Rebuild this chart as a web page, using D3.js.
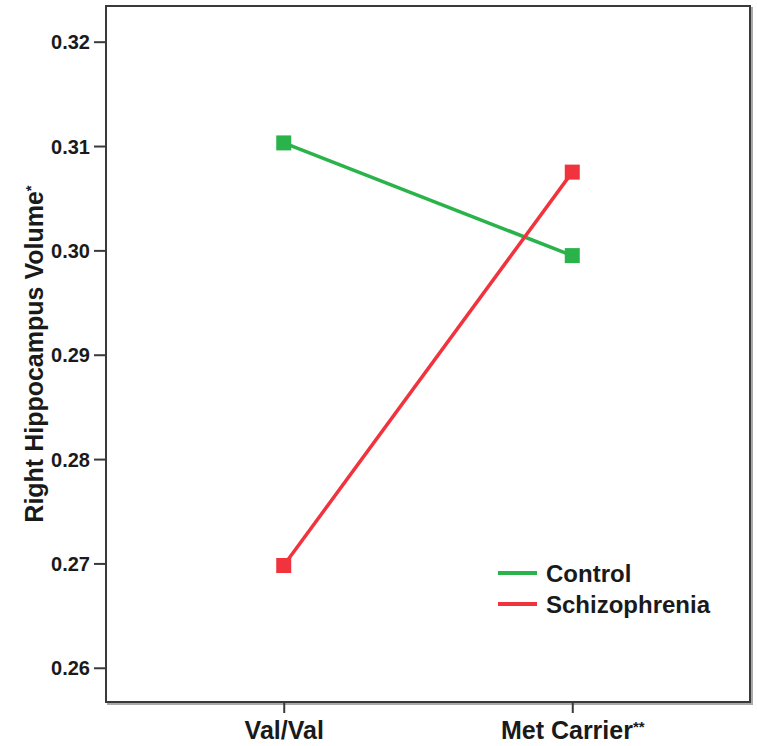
<!DOCTYPE html>
<meta charset="utf-8">
<body style="margin:0;background:#fff">
<script src="https://d3js.org/d3.v7.min.js"></script>
<style>
  text { font-family: "Liberation Sans", Arial, sans-serif; font-weight: bold; fill: #1a1a1a; }
  .tick text { font-size: 20px; }
</style>
<script>
var width = 757, height = 746;

// data
var genotypes = ["Val/Val", "Met Carrier"];
var control = [0.3103, 0.2995];
var schizophrenia = [0.2698, 0.3075];
var yTicks = [0.26, 0.27, 0.28, 0.29, 0.30, 0.31, 0.32];
var groups = ["Control", "Schizophrenia"];
var colors = ["#2bb34b", "#f0333d"];

var plotLeft = 106, plotRight = 750, plotTop = 6, plotBottom = 702;

var svg = d3.select("body").append("svg")
  .attr("width", width)
  .attr("height", height);

var x = d3.scalePoint()
  .domain(genotypes)
  .range([plotLeft, plotRight])
  .padding(0.616);

var y = d3.scaleLinear()
  .domain([0.25672, 0.32342])
  .range([plotBottom, plotTop]);

// frame with a little shadow like the original
svg.append("rect")
  .attr("x", plotLeft + 2).attr("y", plotTop + 2)
  .attr("width", plotRight - plotLeft).attr("height", plotBottom - plotTop)
  .attr("fill", "none").attr("stroke", "#aaa").attr("stroke-width", 2);
svg.append("rect")
  .attr("x", plotLeft).attr("y", plotTop)
  .attr("width", plotRight - plotLeft).attr("height", plotBottom - plotTop)
  .attr("fill", "#fff").attr("stroke", "#3a3a3a").attr("stroke-width", 2);

var yAxis = svg.append("g")
  .attr("transform", "translate(" + plotLeft + ",0)")
  .call(d3.axisLeft(y).tickValues(yTicks).tickFormat(d3.format(".2f")).tickSize(12).tickPadding(4));
yAxis.select(".domain").remove();
yAxis.selectAll(".tick line").attr("stroke", "#3a3a3a").attr("stroke-width", 2);
yAxis.selectAll(".tick text").attr("dy", "0.36em");

var xAxis = svg.append("g")
  .attr("transform", "translate(0," + plotBottom + ")")
  .call(d3.axisBottom(x).tickSize(11).tickPadding(8));
xAxis.select(".domain").remove();
xAxis.selectAll(".tick line").attr("stroke", "#3a3a3a").attr("stroke-width", 2);
xAxis.selectAll(".tick text")
  .style("font-size", "25px")
  .each(function(d) {
    if (d === "Met Carrier") {
      d3.select(this).append("tspan")
        .attr("dy", "-0.45em")
        .style("font-size", "15px")
        .text("**");
    }
  });

// y axis title
var yt = svg.append("text")
  .attr("transform", "translate(43," + ((plotTop + plotBottom) / 2) + ") rotate(-90)")
  .attr("text-anchor", "middle")
  .style("font-size", "25px");
yt.append("tspan").text("Right Hippocampus Volume");
yt.append("tspan").attr("dy", "-0.45em").style("font-size", "15px").text("*");

var series = [control, schizophrenia];
var line = d3.line()
  .x(function(d, i) { return x(genotypes[i]); })
  .y(function(d) { return y(d); });

series.forEach(function(vals, s) {
  svg.append("path")
    .attr("d", line(vals))
    .attr("fill", "none")
    .attr("stroke", colors[s])
    .attr("stroke-width", 3.5);
  svg.selectAll(".pt" + s)
    .data(vals)
    .enter().append("rect")
    .attr("x", function(d, i) { return x(genotypes[i]) - 7.5; })
    .attr("y", function(d) { return y(d) - 7.5; })
    .attr("width", 15).attr("height", 15)
    .attr("fill", colors[s]);
});

// legend
var legend = svg.append("g").attr("transform", "translate(498,573)");
groups.forEach(function(g, i) {
  legend.append("line")
    .attr("x1", 0).attr("x2", 39)
    .attr("y1", i * 31).attr("y2", i * 31)
    .attr("stroke", colors[i]).attr("stroke-width", 4);
  legend.append("text")
    .attr("x", 48).attr("y", i * 31 + 8.5)
    .style("font-size", "24px")
    .text(g);
});
</script>
</body>
